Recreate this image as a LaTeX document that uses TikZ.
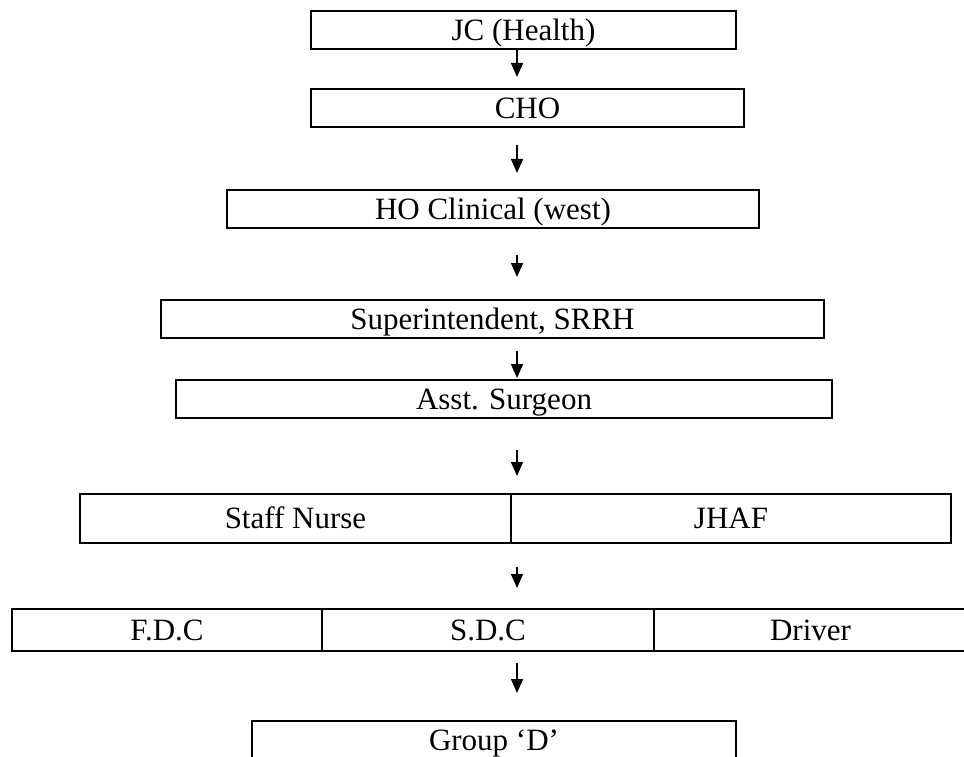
\documentclass[tikz,border=0pt]{standalone}
\usepackage{fontspec}
\setmainfont{Liberation Serif}
\usetikzlibrary{arrows.meta}
\begin{document}
\begin{tikzpicture}[x=1pt,y=-1pt,
  box/.style={draw, line width=2pt, inner sep=0pt, anchor=north west,
    text height=20.5pt, text depth=0pt, font=\fontsize{31}{37}\selectfont},
  arr/.style={line width=1.4pt, -{Triangle[length=14pt,width=12pt]}}]
\useasboundingbox (0,0) rectangle (964,757);
\coordinate (ax) at (517,0);
% boxes
\node[box, minimum width=425pt, minimum height=38pt] (jc) at (310,10) {JC (Health)};
\node[box, minimum width=433pt, minimum height=38pt] (cho) at (310,88) {CHO};
\node[box, minimum width=532pt, minimum height=38pt] (ho) at (226,189) {HO Clinical (west)};
\node[box, minimum width=663pt, minimum height=38pt] (sup) at (160,299) {Superintendent, SRRH};
\node[box, minimum width=656pt, minimum height=38pt] (as) at (175,379) {Asst. Surgeon};
\node[box, minimum width=431pt, minimum height=49pt] (sn) at (79,493) {Staff Nurse};
\node[box, minimum width=440pt, minimum height=49pt] (jh) at (510,493) {JHAF};
\node[box, minimum width=310pt, minimum height=42pt] (fdc) at (11,608) {F.D.C};
\node[box, minimum width=332pt, minimum height=42pt] (sdc) at (321,608) {S.D.C};
\node[box, minimum width=313pt, minimum height=42pt] (drv) at (653,608) {Driver};
\node[box, minimum width=484pt, minimum height=38pt] (gd) at (251,720) {Group `D'};
% arrows
\draw[arr, shorten <=0pt, shorten >=11pt] (ax |- jc.south) -- (ax |- cho.north);
\draw[arr, shorten <=17pt, shorten >=16pt] (ax |- cho.south) -- (ax |- ho.north);
\draw[arr, shorten <=26pt, shorten >=22pt] (ax |- ho.south) -- (ax |- sup.north);
\draw[arr, shorten <=12pt, shorten >=1pt] (ax |- sup.south) -- (ax |- as.north);
\draw[arr, shorten <=31pt, shorten >=17pt] (ax |- as.south) -- (ax |- jh.north);
\draw[arr, shorten <=23pt, shorten >=20pt] (ax |- jh.south) -- (ax |- sdc.north);
\draw[arr, shorten <=11pt, shorten >=27pt] (ax |- sdc.south) -- (ax |- gd.north);
\end{tikzpicture}
\end{document}
